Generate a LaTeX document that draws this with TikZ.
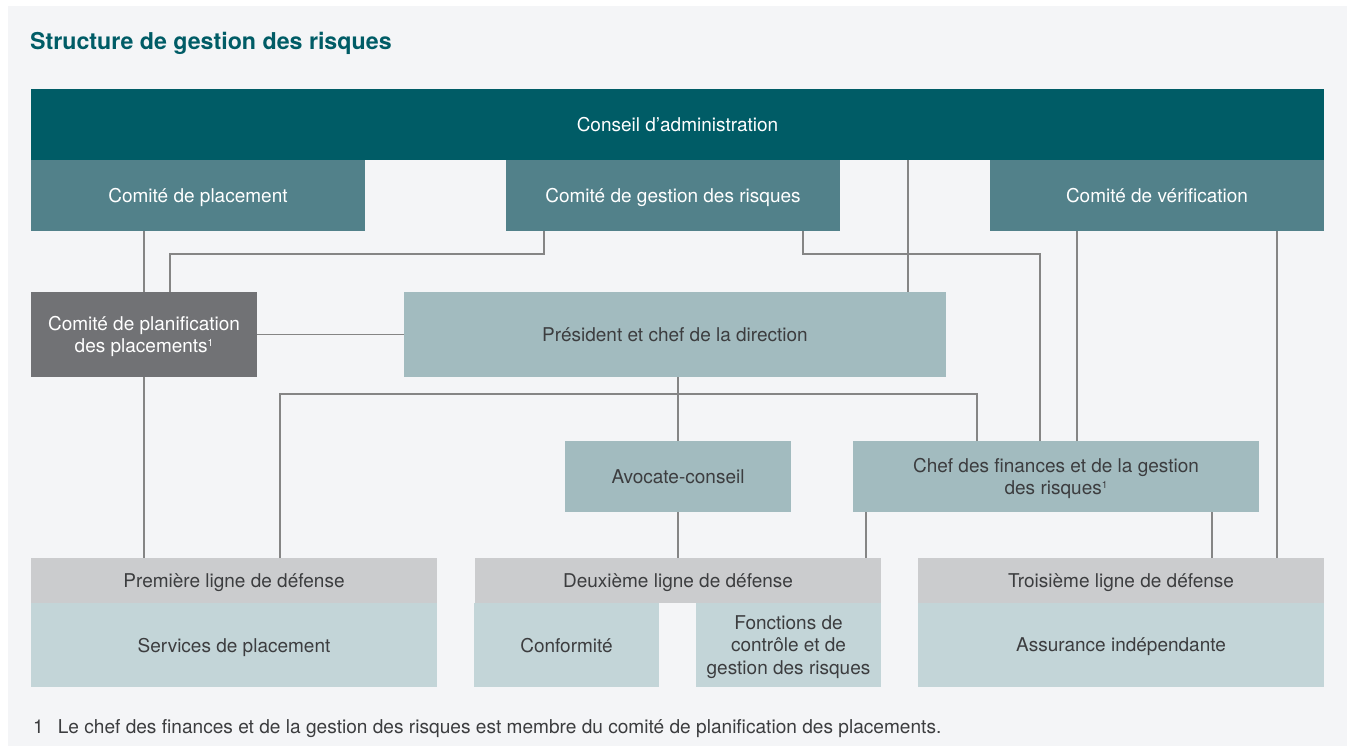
\documentclass[tikz,border=0pt]{standalone}
\usepackage{fontspec}
\setmainfont{TeX Gyre Heros}
\usepackage{tikz}

\definecolor{panel}{HTML}{F4F5F7}
\definecolor{board}{HTML}{005C66}
\definecolor{cttee}{HTML}{52818A}
\definecolor{plan}{HTML}{717275}
\definecolor{exec}{HTML}{A2BBBF}
\definecolor{lineband}{HTML}{CBCCCE}
\definecolor{unit}{HTML}{C3D5D8}
\definecolor{wire}{HTML}{858585}
\definecolor{ink}{HTML}{3C3D3F}

\newcommand{\supone}{\raisebox{6.5pt}{\fontsize{10}{10}\selectfont 1}}

\begin{document}
\begin{tikzpicture}[x=1pt, y=-1pt,
	box/.style={shape=rectangle, inner sep=0pt, outer sep=0pt, align=center,
		text depth=0pt, font=\fontsize{19}{22.5}\selectfont},
	dark/.style={box, text=white},
	light/.style={box, text=ink},
	link/.style={-, draw=wire, line width=1.2pt}]
	
	\useasboundingbox (0,0) rectangle (1347,746);
	\fill[panel] (8,6) rectangle (1347,746);
	
	\node[anchor=base west, inner sep=0pt, text=board, font=\fontsize{23.2}{28}\selectfont\bfseries] (title) at (30, 50) {Structure de gestion des risques};
	
	\node[dark, fill=board, minimum width=1293, minimum height=71] (conseil) at (677.5, 124.5) {Conseil d’administration};
	\node[dark, fill=cttee, minimum width=334, minimum height=71] (cplac) at (198, 195.5)   {Comité de placement};
	\node[dark, fill=cttee, minimum width=334, minimum height=71] (cgr)   at (673, 195.5)   {Comité de gestion des risques};
	\node[dark, fill=cttee, minimum width=334, minimum height=71] (cver)  at (1157, 195.5)  {Comité de vérification};
	\node[dark, fill=plan, minimum width=226, minimum height=85]  (cpp)   at (144, 334.5)   {Comité de planification\\des placements\supone};
	\node[light, fill=exec, minimum width=542, minimum height=85] (pdg)   at (675, 334.5)   {Président et chef de la direction};
	\node[light, fill=exec, minimum width=226, minimum height=71] (avoc)  at (678, 476.5)   {Avocate-conseil};
	\node[light, fill=exec, minimum width=406, minimum height=71] (cfo)   at (1056, 476.5)  {Chef des finances et de la gestion\\des risques\supone};
	
	\node[light, fill=lineband, minimum width=406, minimum height=45] (ligne1) at (234, 580.5)  {Première ligne de défense};
	\node[light, fill=lineband, minimum width=406, minimum height=45] (ligne2) at (678, 580.5)  {Deuxième ligne de défense};
	\node[light, fill=lineband, minimum width=406, minimum height=45] (ligne3) at (1121, 580.5) {Troisième ligne de défense};
	\node[light, fill=unit, minimum width=406, minimum height=84] (serv)  at (234, 645)    {Services de placement};
	\node[light, fill=unit, minimum width=185, minimum height=84] (conf)  at (566.5, 645)  {Conformité};
	\node[light, fill=unit, minimum width=185, minimum height=84] (fonct) at (788.5, 645)  {Fonctions de\\contrôle et de\\gestion des risques};
	\node[light, fill=unit, minimum width=406, minimum height=84] (assur) at (1121, 645)   {Assurance indépendante};
	
	\node[anchor=base west, inner sep=0pt, text=ink, font=\fontsize{19.1}{22}\selectfont] (note) at (33, 733) {1\hspace{14pt}Le chef des finances et de la gestion des risques est membre du comité de planification des placements.};
	
	\path[link] (cplac.south -| cpp.north) edge (cpp.north);
	\path[link] (cpp.south) edge (ligne1.north -| cpp.south);
	\path[link] (conseil.south -| 908,0) edge (pdg.north -| 908,0);
	\path[link] (cpp.east) edge (pdg.west);
	\path[link] (pdg.south -| avoc.north) edge (avoc.north);
	\path[link] (avoc.south) edge (ligne2.north -| avoc.south);
	\path[link] (cver.south -| 1077,0) edge (cfo.north -| 1077,0);
	\path[link] (cver.south -| 1277,0) edge (ligne3.north -| 1277,0);
	\path[link] (cfo.south -| 866,0) edge (ligne2.north -| 866,0);
	\path[link] (cfo.south -| 1212,0) edge (ligne3.north -| 1212,0);
	\draw[link] (cgr.south -| 544,0) -- (544,254) -| (cpp.north -| 170,0);
	\draw[link] (cgr.south -| 803,0) -- (803,254) -| (cfo.north -| 1040,0);
	\draw[link] (ligne1.north -| 280,0) -- (280,394) -| (cfo.north -| 977,0);
	
\end{tikzpicture}
\end{document}
